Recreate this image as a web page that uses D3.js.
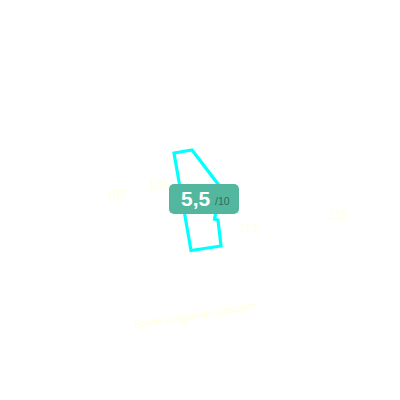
<!DOCTYPE html>
<html>
<head>
<meta charset="utf-8">
<script src="https://cdn.jsdelivr.net/npm/d3@7"></script>
<style>
  html, body { margin: 0; padding: 0; background: #fff; }
  svg { display: block; }
</style>
</head>
<body>
<div id="chart"></div>
<script>
// outline of the plot, in map metres from the centre of the view
const parcelX = [-26, -8, 21, 14.5, 18, 21, -9];
const parcelY = [47, 50, 12, -19, -20, -46, -50.5];
const numberLabels = ["107", "109", "113", "115"];
const numberX = [-83.5, -42, 48, 138];
const numberY = [1, 11, -32, -19];
const streetName = "Strada Lungomare Cristoforo";
const streetX = -3.5;
const streetY = -119;
const scoreValue = "5,5";
const scoreMax = "/10";

const width = 400;
const height = 400;

const x = d3.scaleLinear().domain([-200, 200]).range([0, width]);
const y = d3.scaleLinear().domain([-200, 200]).range([height, 0]);

const svg = d3.select("#chart").append("svg")
  .attr("width", width)
  .attr("height", height);

const parcel = parcelX.map((d, i) => [x(d), y(parcelY[i])]);

svg.append("path")
  .attr("d", d3.line().curve(d3.curveLinearClosed)(parcel))
  .attr("fill", "none")
  .attr("stroke", "#00ffff")
  .attr("stroke-width", 3.2);

svg.selectAll("text.number")
  .data(numberLabels)
  .enter()
  .append("text")
  .attr("class", "number")
  .attr("x", (d, i) => x(numberX[i]))
  .attr("y", (d, i) => y(numberY[i]))
  .attr("text-anchor", "middle")
  .style("font-family", "'Liberation Sans', sans-serif")
  .style("font-size", "12px")
  .style("fill", "#ffffe4")
  .text(d => d);

svg.append("text")
  .attr("transform", `translate(${x(streetX)},${y(streetY)}) rotate(-9)`)
  .attr("text-anchor", "middle")
  .attr("textLength", 124)
  .style("font-family", "'Liberation Sans', sans-serif")
  .style("font-size", "11px")
  .style("fill", "#ffffe4")
  .text(streetName);

// score badge
const badge = svg.append("g").attr("transform", "translate(169,184)");

badge.append("rect")
  .attr("width", 70)
  .attr("height", 30)
  .attr("rx", 5)
  .attr("fill", "#52b79e");

badge.append("text")
  .attr("x", 12)
  .attr("y", 22)
  .style("font-family", "'Liberation Sans', sans-serif")
  .style("font-size", "21px")
  .style("font-weight", "700")
  .style("fill", "#fff")
  .text(scoreValue);

badge.append("text")
  .attr("x", 46)
  .attr("y", 21)
  .style("font-family", "'Liberation Sans', sans-serif")
  .style("font-size", "10.5px")
  .style("fill", "#2f6b5c")
  .text(scoreMax);
</script>
</body>
</html>
